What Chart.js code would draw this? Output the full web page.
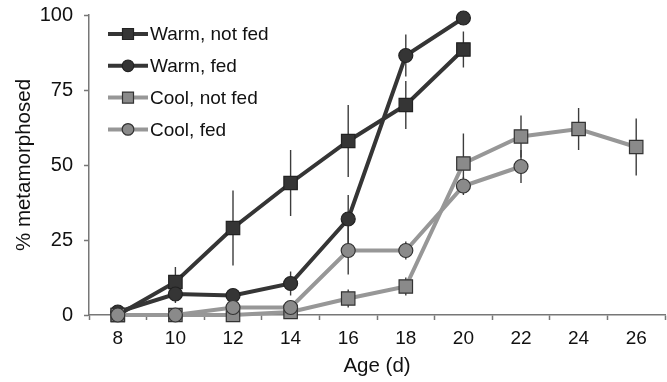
<!DOCTYPE html>
<html>
<head>
<meta charset="utf-8">
<script src="https://cdn.jsdelivr.net/npm/chart.js@4"></script>
<style>
  html, body { margin: 0; padding: 0; background: #fff; }
  #wrap { width: 667px; height: 382px; position: relative; }
</style>
</head>
<body>
<div id="wrap"><canvas id="metaChart"></canvas></div>
<script>
const ages = ['8', '10', '12', '14', '16', '18', '20', '22', '24', '26'];
const yTicks = [0, 25, 50, 75, 100];

const warmNotFed = [0, 11, 29, 44, 58, 70, 88.5, null, null, null];
const warmNotFedErr = [0, 5, 12.5, 11, 12, 8, 6, 0, 0, 0];
const warmFed = [1, 7, 6.5, 10.5, 32, 86.5, 99, null, null, null];
const warmFedErr = [0, 3, 2, 4, 8, 7, 0, 0, 0, 0];
const coolNotFed = [0, 0, 0, 1, 5.5, 9.5, 50.5, 59.5, 62, 56];
const coolNotFedErr = [0, 0, 0, 0, 3, 3, 10, 7, 7, 9.5];
const coolFed = [0, 0, 2.5, 2.5, 21.5, 21.5, 43, 49.5, null, null];
const coolFedErr = [0, 0, 0, 0, 8, 3, 3, 5.5, 0, 0];

const dark = '#353535';
const light = '#979797';
const lightFill = '#8a8a8a';
const fontFam = '"Liberation Sans", Arial, sans-serif';

function series(label, data, err, color, fill, border, shape, order) {
    return {
        label: label,
        data: data,
        err: err,
        borderColor: color,
        borderWidth: 4,
        pointStyle: shape,
        pointRadius: shape === 'rect' ? 9.5 : 7,
        pointBackgroundColor: fill,
        pointBorderColor: border,
        pointBorderWidth: 1.2,
        fill: false,
        tension: 0,
        clip: false,
        order: order,
    };
}

// error bars, drawn under the lines
const errorBars = {
    id: 'errorBars',
    beforeDatasetsDraw(chart) {
        const ctx = chart.ctx;
        const x = chart.scales.x, y = chart.scales.y;
        ctx.save();
        ctx.strokeStyle = '#3c3c3c';
        ctx.lineWidth = 1.4;
        chart.data.datasets.forEach(ds => {
            ds.data.forEach((v, i) => {
                const e = ds.err[i];
                if (v === null || !e) return;
                const px = x.getPixelForValue(i);
                ctx.beginPath();
                ctx.moveTo(px, y.getPixelForValue(v - e));
                ctx.lineTo(px, y.getPixelForValue(v + e));
                ctx.stroke();
            });
        });
        ctx.restore();
    }
};

// legend with line + marker, inside the plot
const lineLegend = {
    id: 'lineLegend',
    afterDraw(chart) {
        const ctx = chart.ctx;
        ctx.save();
        ctx.font = '19px ' + fontFam;
        ctx.textBaseline = 'middle';
        chart.data.datasets.forEach((ds, i) => {
            const yy = 34 + i * 31.8;
            ctx.strokeStyle = ds.borderColor;
            ctx.lineWidth = 4;
            ctx.beginPath();
            ctx.moveTo(108, yy);
            ctx.lineTo(148, yy);
            ctx.stroke();
            ctx.fillStyle = ds.pointBackgroundColor;
            ctx.strokeStyle = ds.pointBorderColor;
            ctx.lineWidth = 1.2;
            ctx.beginPath();
            if (ds.pointStyle === 'rect') {
                ctx.rect(122.5, yy - 5.5, 11, 11);
            } else {
                ctx.arc(128, yy, 5.8, 0, Math.PI * 2);
            }
            ctx.fill();
            ctx.stroke();
            ctx.fillStyle = '#111';
            ctx.fillText(ds.label, 150, yy + 1);
        });
        ctx.restore();
    }
};

const ctx = document.getElementById('metaChart').getContext('2d');
const myChart = new Chart(ctx, {
    type: 'line',
    data: {
        labels: ages,
        datasets: [
            series('Warm, not fed', warmNotFed, warmNotFedErr, dark, dark, '#222', 'rect', 4),
            series('Warm, fed', warmFed, warmFedErr, dark, dark, '#222', 'circle', 3),
            series('Cool, not fed', coolNotFed, coolNotFedErr, light, lightFill, '#333', 'rect', 2),
            series('Cool, fed', coolFed, coolFedErr, light, lightFill, '#333', 'circle', 1),
        ],
    },
    options: {
        responsive: true,
        maintainAspectRatio: false,
        animation: false,
        layout: { autoPadding: false, padding: { top: 15, right: 2, left: 0, bottom: 0 } },
        plugins: {
            legend: { display: false },
            tooltip: { enabled: false },
        },
        scales: {
            x: {
                type: 'category',
                offset: true,
                afterFit: s => { s.height = 67; s.paddingLeft = 0; s.paddingRight = 0; },
                grid: {
                    offset: true,
                    drawOnChartArea: false,
                    drawTicks: true,
                    tickLength: 5,
                    tickColor: '#777',
                    tickWidth: 1.5,
                },
                border: { color: '#777', width: 1.5 },
                ticks: {
                    color: '#111',
                    padding: 7,
                    maxRotation: 0,
                    font: { family: fontFam, size: 19 },
                },
                title: {
                    display: true,
                    text: 'Age (d)',
                    color: '#111',
                    padding: { top: 0, bottom: 3 },
                    font: { family: fontFam, size: 20.5 },
                },
            },
            y: {
                min: 0,
                max: 100,
                afterFit: s => { s.width = 89; s.paddingTop = 0; s.paddingBottom = 0; },
                afterBuildTicks: s => { s.ticks = yTicks.map(v => ({ value: v })); },
                grid: {
                    drawOnChartArea: false,
                    drawTicks: true,
                    tickLength: 5,
                    tickColor: '#777',
                    tickWidth: 1.5,
                },
                border: { color: '#777', width: 1.5 },
                ticks: {
                    color: '#111',
                    padding: 11,
                    font: { family: fontFam, size: 20 },
                },
                title: {
                    display: true,
                    text: '% metamorphosed',
                    color: '#111',
                    padding: { top: 12, bottom: 0 },
                    font: { family: fontFam, size: 20.5 },
                },
            },
        },
    },
    plugins: [errorBars, lineLegend],
});
</script>
</body>
</html>
